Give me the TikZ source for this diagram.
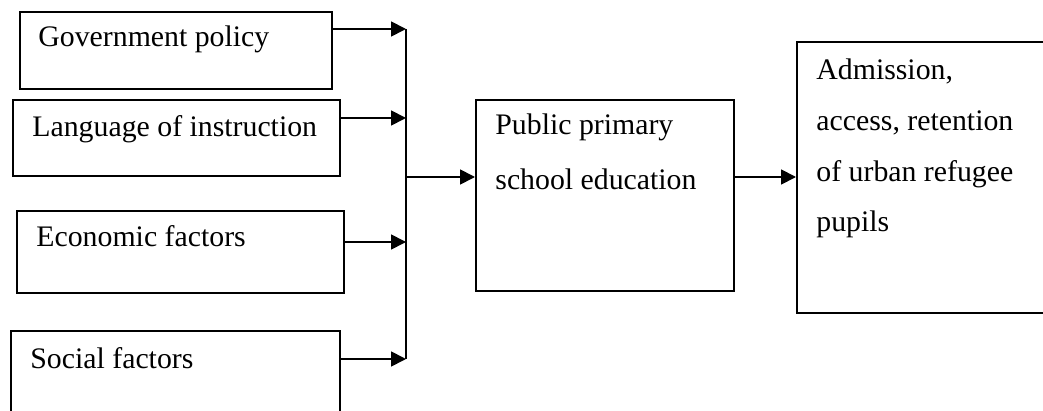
\documentclass[tikz,border=0pt]{standalone}
\usepackage{fontspec}
\setmainfont{Liberation Serif}
\usetikzlibrary{arrows.meta,calc}
\begin{document}
\begin{tikzpicture}[x=0.5pt,y=-0.5pt,
  box/.style={draw, line width=0.9pt, inner sep=0pt, anchor=north west},
  lbl/.style={anchor=base west, inner sep=0pt, font=\fontsize{14.9}{27.5}\selectfont, align=left},
  conn/.style={line width=0.9pt, -{Triangle[length=7.5pt,width=7.5pt]}},
  bus/.style={line width=0.9pt}
  ]
\useasboundingbox (0,0) rectangle (1043,411);
% boxes
\node[box, minimum width=156pt, minimum height=38.5pt] (b1) at (19,11) {};
\node[box, minimum width=163.5pt, minimum height=38pt] (b2) at (12,99) {};
\node[box, minimum width=163.5pt, minimum height=41pt] (b3) at (16,210) {};
\node[box, minimum width=164.5pt, minimum height=60pt] (b4) at (10,330) {};
\node[box, minimum width=129pt, minimum height=95.5pt] (b5) at (475,99) {};
\node[box, minimum width=140pt, minimum height=135.5pt] (b6) at (796,41) {};
% labels (base = baseline of the last line)
\node[lbl] (t1) at (38,47) {Government policy};
\node[lbl] (t2) at (32,137) {Language of instruction};
\node[lbl] (t3) at (36,247) {Economic factors};
\node[lbl] (t4) at (30,368) {Social factors};
\node[lbl] (t5) at (495,190) {Public primary\\school education};
\node[lbl, font=\fontsize{14.9}{25.4}\selectfont] (t6) at (816,232) {Admission,\\access, retention\\of urban refugee\\pupils};
% junctions
\coordinate (j1) at (406,29);
\coordinate (j2) at (406,118);
\coordinate (jm) at (406,177);
\coordinate (j3) at (406,242);
\coordinate (j4) at (406,359);
% connectors
\draw[bus] (j1) -- (j4);
\draw[conn] (b1.east |- j1) -- (j1);
\draw[conn] (b2.east |- j2) -- (j2);
\draw[conn] (b3.east |- j3) -- (j3);
\draw[conn] (b4.east |- j4) -- (j4);
\draw[conn] (jm) -- (b5.west |- jm);
\draw[conn] (b5.east |- jm) -- (b6.west |- jm);
\end{tikzpicture}
\end{document}
